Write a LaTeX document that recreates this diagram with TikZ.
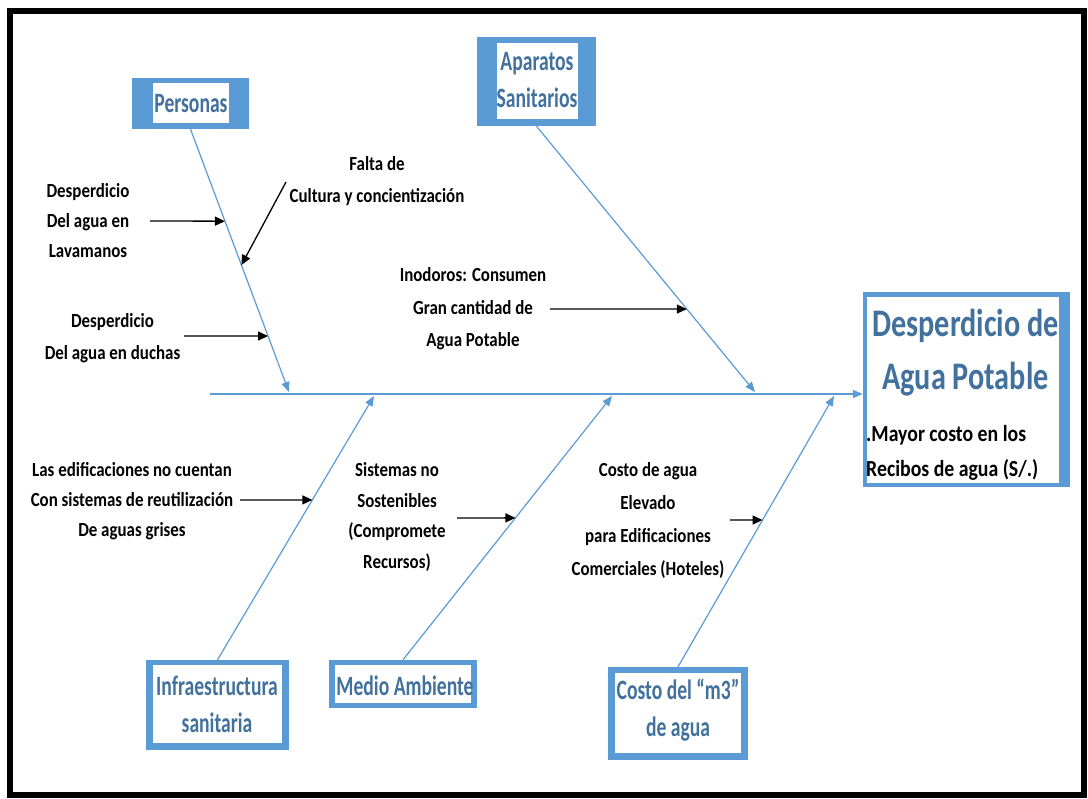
\documentclass[tikz,border=0pt]{standalone}
\usepackage{fontspec}
\setmainfont{Carlito}
\newfontfamily\bodyfont[FakeStretch=0.845]{Carlito}
\newfontfamily\labfont[FakeStretch=0.70]{Carlito}
\newfontfamily\titfont[FakeStretch=0.775]{Carlito}
\newfontfamily\subfont[FakeStretch=0.86]{Carlito}
\usetikzlibrary{arrows.meta,calc}
\definecolor{boxblue}{HTML}{5B9BD5}
\definecolor{labblue}{HTML}{41719C}
\newcommand{\mlc}[1]{\begin{tabular}[t]{@{}c@{}}#1\end{tabular}}
\newcommand{\mll}[1]{\begin{tabular}[t]{@{}l@{}}#1\end{tabular}}
\tikzset{
  outerbox/.style={fill=boxblue, draw=none, inner sep=0pt},
  lab/.style={inner sep=0pt, text=labblue, font=\labfont\bfseries\fontsize{28}{37}\selectfont, anchor=base},
  body/.style={inner sep=0pt, text=black, anchor=base},
  bone/.style={draw=boxblue, line width=1.2pt, -{Triangle[length=10pt,width=8pt]}},
  cause/.style={draw=black, line width=1.3pt, -{Triangle[length=10pt,width=9pt]}},
}
\begin{document}
\begin{tikzpicture}[x=1pt,y=-1pt]
\useasboundingbox (0,0) rectangle (1088,799);
% frame
\draw[black, line width=6pt] (10,11) rectangle (1084,795);

% main effect box
\node[outerbox, minimum width=207pt, minimum height=195pt] (main) at (966.5,389.5) {};
\fill[white] (867,297) rectangle (1059,483);
\node[lab, font=\titfont\bfseries\fontsize{39}{53}\selectfont] (maint) at (965.5,337) {\mlc{Desperdicio de\\Agua Potable}};
\node[body, anchor=base west, font=\subfont\bfseries\fontsize{23}{35}\selectfont] (mains) at (866,442) {\mll{.Mayor costo en los\\Recibos de agua (S/.)}};

% category boxes
\node[outerbox, minimum width=117pt, minimum height=51pt] (persbox) at (190.5,103.5) {};
\fill[white] (153,83) rectangle (229,123);
\node[lab] (perst) at (191,113) {Personas};

\node[outerbox, minimum width=119pt, minimum height=89pt] (apbox) at (536.5,81.5) {};
\fill[white] (497,43) rectangle (578,119);
\node[lab] (apt) at (537,71) {\mlc{Aparatos\\Sanitarios}};

\node[outerbox, minimum width=143pt, minimum height=90pt] (infbox) at (217.5,705) {};
\fill[white] (153,665) rectangle (282,743);
\node[lab] (inft) at (217,695) {\mlc{Infraestructura\\sanitaria}};

\node[outerbox, minimum width=148pt, minimum height=48pt] (medbox) at (403,684) {};
\fill[white] (335,665) rectangle (471,703);
\node[lab] (medt) at (405,695) {Medio Ambiente};

\node[outerbox, minimum width=140pt, minimum height=93pt] (cosbox) at (678,713.5) {};
\fill[white] (615,673) rectangle (741,753);
\node[lab] (cost) at (678,699) {\mlc{Costo del “m3”\\de agua}};

% spine and bones
\coordinate (tail) at (210,394);
\draw[bone] (tail) -- (tail -| main.west);
\coordinate (pe) at (289,392);
\coordinate (ae) at (755,392);
\coordinate (ie) at (374,396);
\coordinate (me) at (612,396);
\coordinate (ce) at (834,396);
\draw[bone] (persbox.south) -- (pe);
\draw[bone] (apbox.south) -- (ae);
\draw[bone] (infbox.north) -- (ie);
\draw[bone] (medbox.north) -- (me);
\draw[bone] (cosbox.north) -- (ce);

% points on bones
\coordinate (p1) at ($(persbox.south)!0.35!(pe)$);
\coordinate (p2) at ($(persbox.south)!0.517!(pe)$);
\coordinate (p3) at ($(persbox.south)!0.787!(pe)$);
\coordinate (a1) at ($(apbox.south)!0.688!(ae)$);
\coordinate (i1) at ($(infbox.north)!0.606!(ie)$);
\coordinate (m1) at ($(medbox.north)!0.538!(me)$);
\coordinate (c1) at ($(cosbox.north)!0.542!(ce)$);

% cause texts
\begin{scope}[font=\bodyfont\bfseries\fontsize{20}{30}\selectfont]
\node[body] (t1) at (88,198) {\mlc{Desperdicio\\Del agua en\\Lavamanos}};
\node[body, font=\bodyfont\bfseries\fontsize{20}{32}\selectfont] (t2) at (377,171) {\mlc{Falta de\\Cultura y concientización}};
\node[body, font=\bodyfont\bfseries\fontsize{20}{32}\selectfont] (t3) at (112.5,328) {\mlc{Desperdicio\\Del agua en duchas}};
\node[body, font=\bodyfont\bfseries\fontsize{20}{32.5}\selectfont] (t4) at (473,282) {\mlc{Inodoros: Consumen\\Gran cantidad de\\Agua Potable}};
\node[body] (t5) at (132,477) {\mlc{Las edificaciones no cuentan\\Con sistemas de reutilización\\De aguas grises}};
\node[body, font=\bodyfont\bfseries\fontsize{20}{30.5}\selectfont] (t6) at (397,477) {\mlc{Sistemas no\\Sostenibles\\(Compromete\\Recursos)}};
\node[body, font=\bodyfont\bfseries\fontsize{20}{33}\selectfont] (t7) at (648,477) {\mlc{Costo de agua\\Elevado\\para Edificaciones\\Comerciales (Hoteles)}};
\end{scope}

% cause arrows
\coordinate (s1) at (150,221);
\coordinate (s2) at (286,182);
\coordinate (s3) at (184,336);
\coordinate (s4) at (550,309);
\coordinate (s5) at (240,500);
\coordinate (s6) at (457,518);
\coordinate (s7) at (730,520);
\draw[cause] (s1) -- (p1);
\draw[cause] (s2) -- (p2);
\draw[cause] (s3) -- (p3);
\draw[cause] (s4) -- (a1);
\draw[cause] (s5) -- (i1);
\draw[cause] (s6) -- (m1);
\draw[cause] (s7) -- (c1);
\end{tikzpicture}
\end{document}
